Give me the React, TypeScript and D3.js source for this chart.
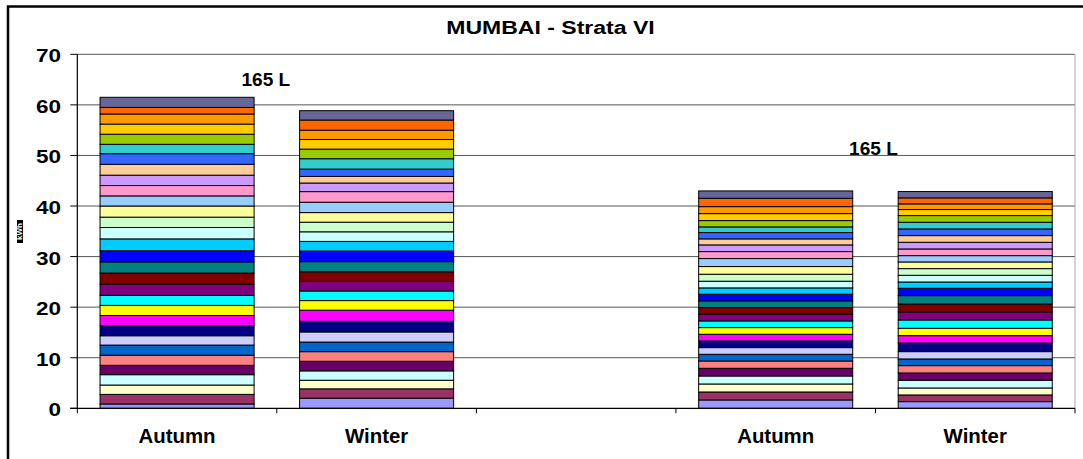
import React from 'react';
import * as d3 from 'd3';

// category slots on the x axis (the middle slot is empty)
const categories = ['Autumn', 'Winter', '', 'Autumn', 'Winter'];

// stacked segment colours, bottom to top (Excel default series palette)
const seriesColors = [
  '#9999FF', '#993366', '#FFFFCC', '#CCFFFF', '#660066', '#FF8080', '#0066CC', '#CCCCFF',
  '#000080', '#FF00FF', '#FFFF00', '#00FFFF', '#800080', '#800000', '#008080', '#0000FF',
  '#00CCFF', '#CCFFFF', '#CCFFCC', '#FFFF99', '#99CCFF', '#FF99CC', '#CC99FF', '#FFCC99',
  '#3366FF', '#33CCCC', '#99CC00', '#FFCC00', '#FF9900', '#FF6600', '#666699',
];

// kWh per series, bottom to top
const autumnA = [0.85, 1.9, 1.85, 2.05, 1.85, 2.0, 2.0, 1.85, 2.0, 2.0, 2.0, 2.0, 2.2, 2.2, 2.2, 2.2,
  2.35, 2.25, 2.05, 2.2, 2.0, 2.05, 2.05, 2.15, 2.1, 1.85, 2.0, 2.0, 2.0, 1.3, 2.0];
const winterA = [2.0, 1.85, 1.7, 1.85, 1.9, 1.9, 1.9, 2.0, 2.1, 2.2, 1.9, 1.9, 1.9, 1.9, 2.0, 2.1,
  1.9, 1.9, 1.9, 1.9, 2.05, 2.1, 1.7, 1.3, 1.45, 2.05, 1.9, 1.9, 1.85, 2.0, 1.85];
const autumnB = [1.65, 1.58, 1.58, 1.58, 1.52, 1.45, 1.32, 1.32, 1.32, 1.32, 1.32, 1.32, 1.32, 1.32, 1.32, 1.32,
  1.25, 1.32, 1.38, 1.52, 1.58, 1.38, 1.32, 1.19, 1.25, 1.12, 1.25, 1.38, 1.38, 1.65, 1.45];
const winterB = [1.32, 1.32, 1.38, 1.52, 1.45, 1.45, 1.32, 1.45, 1.71, 1.45, 1.45, 1.65, 1.58, 1.58, 1.65, 1.45,
  1.25, 1.32, 1.32, 1.32, 1.25, 1.32, 1.32, 1.32, 1.32, 1.32, 1.32, 1.19, 1.12, 1.19, 1.25];

const barSlots = [0, 1, 3, 4];
const barValues = [autumnA, winterA, autumnB, winterB];

const yTicks = [0, 10, 20, 30, 40, 50, 60, 70];

// "165 L" notes: position in category units and kWh
const notes = [
  {text: '165 L', slot: 0.945, value: 63.8},
  {text: '165 L', slot: 3.99, value: 50.0},
];

const W = 1083;
const H = 459;
const margin = {top: 54.3, left: 77.3, right: 8, bottom: 50.7};
const font = '"Liberation Sans", Arial, sans-serif';

export default function App() {
  const keys = seriesColors.map((_, i) => 's' + i);
  const rows = barValues.map((vals, b) => {
    const row: any = {slot: barSlots[b]};
    vals.forEach((v, i) => { row[keys[i]] = v; });
    return row;
  });
  const stacked = d3.stack<any>().keys(keys)(rows);

  const x = d3.scaleBand<string>()
    .domain(categories.map((_, i) => String(i)))
    .range([margin.left, W - margin.right])
    .paddingInner(0.228)
    .paddingOuter(0.114);
  const xSlot = d3.scaleLinear().domain([0, categories.length]).range([margin.left, W - margin.right]);
  const y = d3.scaleLinear().domain([0, 70]).range([H - margin.bottom, margin.top]);

  const x0 = margin.left;
  const x1 = W - margin.right;
  const y0 = y(0);

  return (
    <svg width={W} height={H} style={{position: 'absolute', left: 0, top: 0, background: '#fff'}} fontFamily={font}>
      <rect x={8} y={6.5} width={W + 10} height={H + 10} fill="none" stroke="#000" strokeWidth={2.5} />

      <text transform={`translate(550.5,34) scale(1.28,1)`} textAnchor="middle" fontSize={18} fontWeight="bold">
        MUMBAI - Strata VI
      </text>

      {/* gridlines */}
      {yTicks.filter(t => t > 0).map(t => (
        <line key={t} x1={x0} x2={x1} y1={y(t)} y2={y(t)} stroke="#555" strokeWidth={1} />
      ))}
      <line x1={x1} x2={x1} y1={y(70)} y2={y0} stroke="#aaa" strokeWidth={1} />

      {/* bars */}
      {stacked.map((layer, li) => (
        <g key={layer.key} fill={seriesColors[li]}>
          {layer.map((d, bi) => (
            <rect key={bi}
              x={x(String(d.data.slot))}
              y={y(d[1])}
              width={x.bandwidth()}
              height={y(d[0]) - y(d[1])}
              stroke="#000" strokeWidth={1} />
          ))}
        </g>
      ))}

      {/* y axis */}
      <line x1={x0} x2={x0} y1={y(70)} y2={y0} stroke="#000" strokeWidth={1.2} />
      {yTicks.map(t => (
        <g key={t}>
          <line x1={x0 - 7} x2={x0} y1={y(t)} y2={y(t)} stroke="#000" strokeWidth={1} />
          <text transform={`translate(61,${y(t) + 8}) scale(1.25,1)`} textAnchor="end" fontSize={18} fontWeight="bold">
            {t}
          </text>
        </g>
      ))}

      {/* x axis */}
      <line x1={x0 - 7} x2={x1} y1={y0} y2={y0} stroke="#000" strokeWidth={1.2} />
      {d3.range(categories.length + 1).map(i => (
        <line key={i} x1={xSlot(i)} x2={xSlot(i)} y1={y0} y2={y0 + 5} stroke="#000" strokeWidth={1} />
      ))}
      {categories.map((c, i) => (
        <text key={i} transform={`translate(${x(String(i))! + x.bandwidth() / 2},442.7) scale(1.02,1)`}
          textAnchor="middle" fontSize={20} fontWeight="bold">
          {c}
        </text>
      ))}

      {/* notes */}
      {notes.map((n, i) => (
        <text key={i} transform={`translate(${xSlot(n.slot)},${y(n.value)}) scale(1.06,1)`}
          textAnchor="middle" fontSize={18} fontWeight="bold">
          {n.text}
        </text>
      ))}

      {/* axis title */}
      <rect x={17} y={220} width={6} height={23} fill="#000" />
      <text transform="translate(22.3,231.5) rotate(-90)" textAnchor="middle" fontSize={8} fontWeight="bold" fill="#fff">
        kWh
      </text>
    </svg>
  );
}
